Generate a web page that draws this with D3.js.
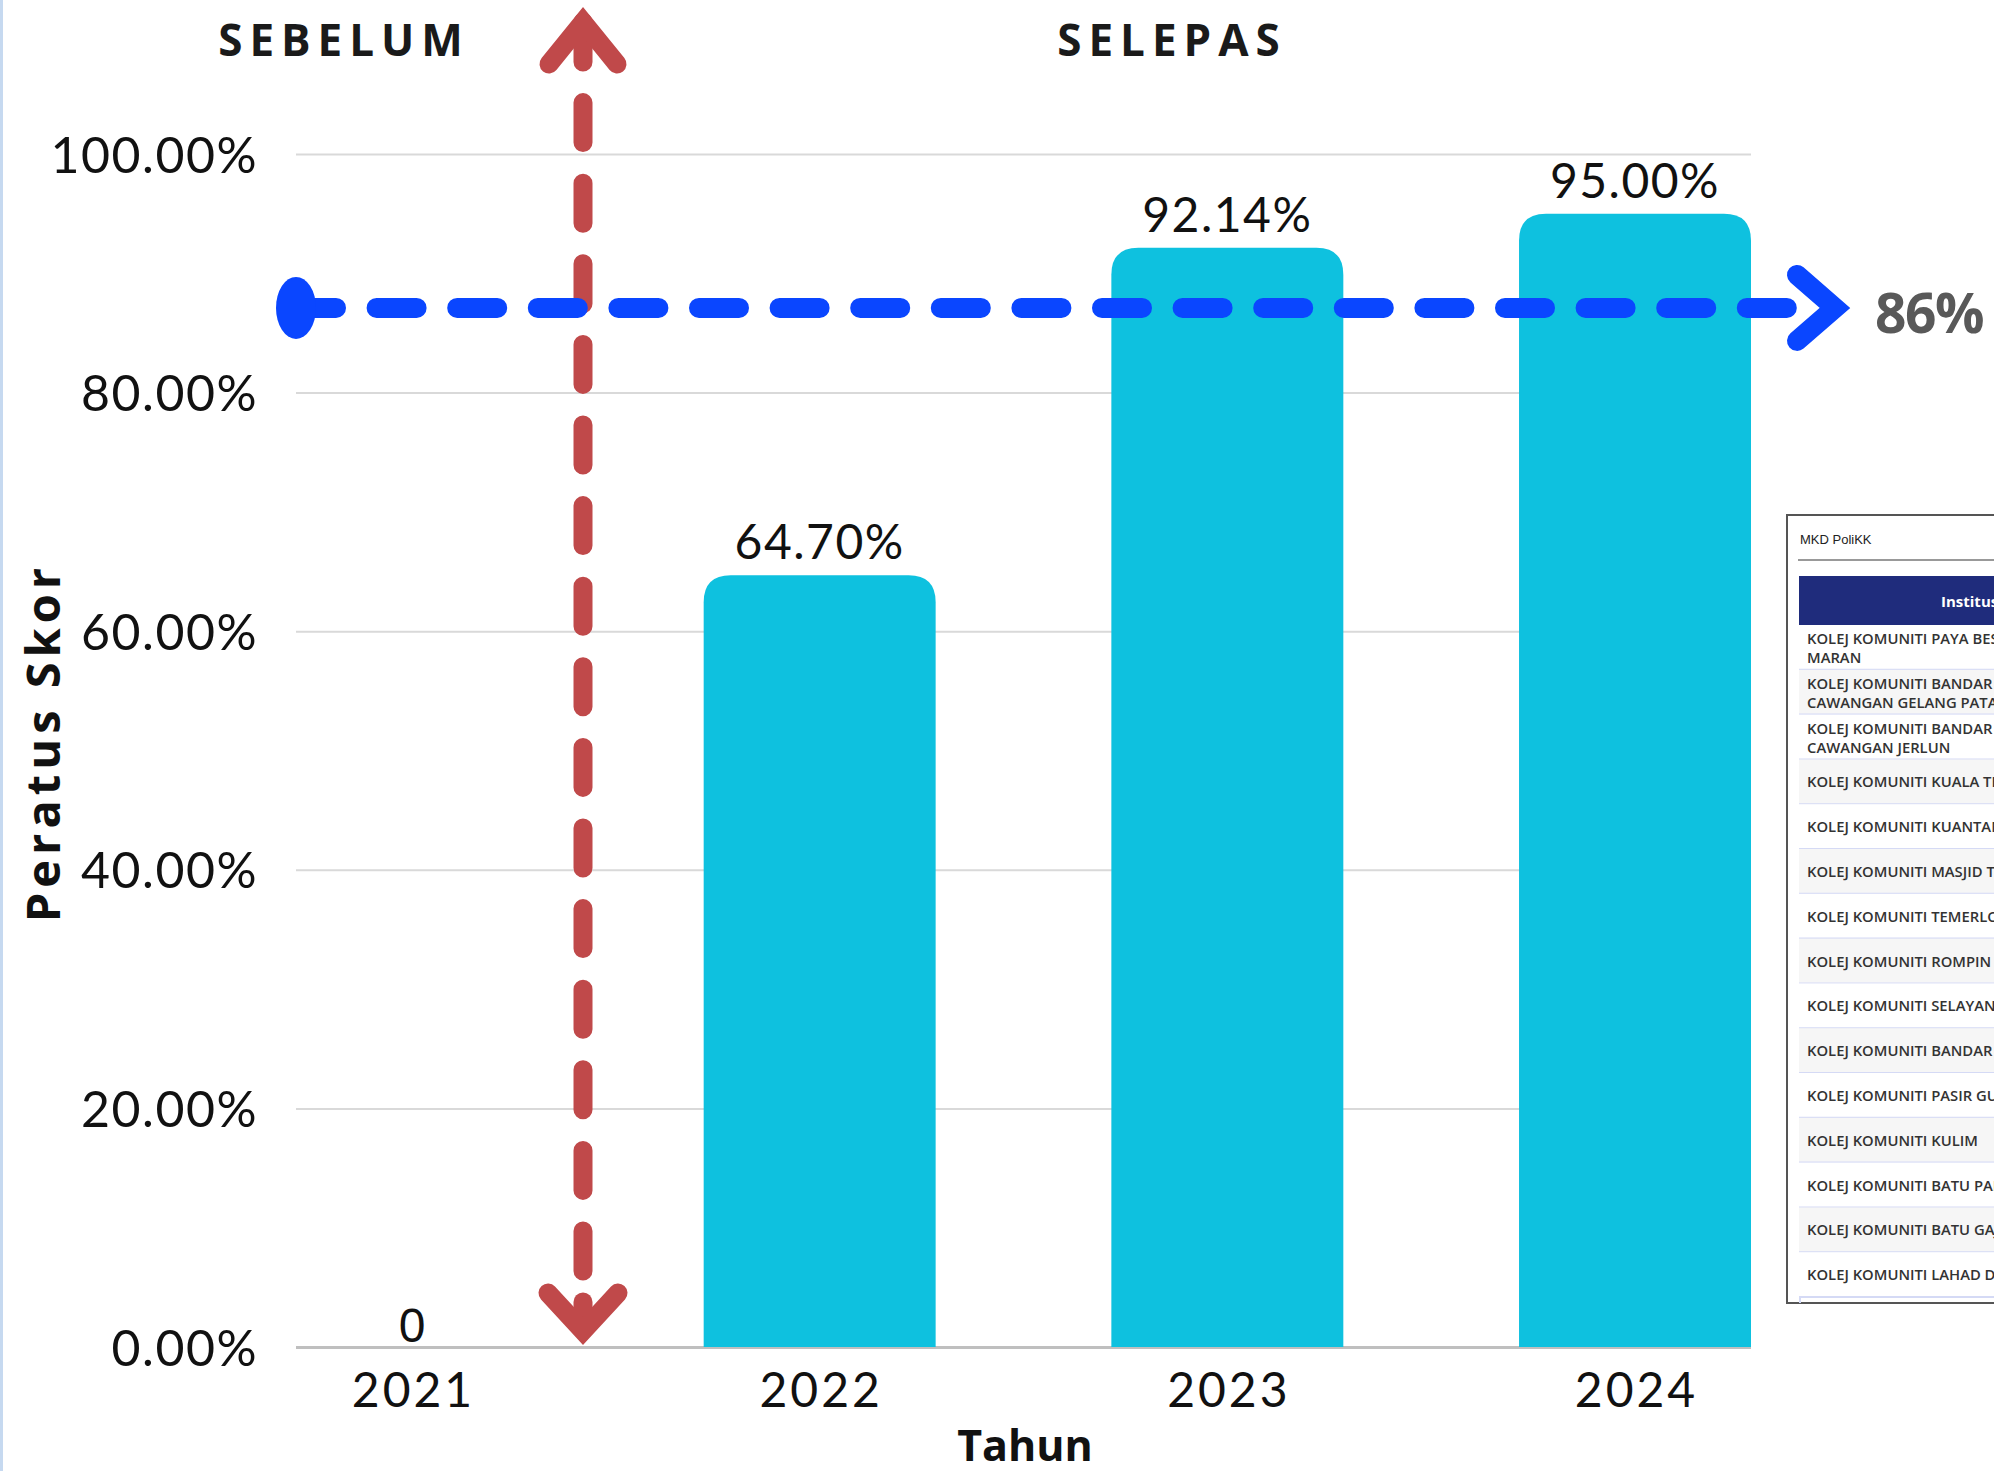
<!DOCTYPE html>
<html>
<head>
<meta charset="utf-8">
<script src="https://cdn.jsdelivr.net/npm/d3@7"></script>
<style>
  html, body { margin: 0; padding: 0; background: #fff; }
  svg { display: block; }
</style>
</head>
<body>
<div id="chart"></div>
<script>
// data
const years = ["2021", "2022", "2023", "2024"];
const scores = [0, 64.70, 92.14, 95.00];
const yTicks = [0, 20, 40, 60, 80, 100];
const targetLevel = 87.1;      // where the blue line is drawn
const targetLabel = "86%";
const tableTitle = "MKD PoliKK";
const tableHeader = "Institusi";
const tableRows = [
  ["KOLEJ KOMUNITI PAYA BESAR", "MARAN"],
  ["KOLEJ KOMUNITI BANDAR DARULAMAN", "CAWANGAN GELANG PATAH"],
  ["KOLEJ KOMUNITI BANDAR DARULAMAN", "CAWANGAN JERLUN"],
  ["KOLEJ KOMUNITI KUALA TERENGGANU"],
  ["KOLEJ KOMUNITI KUANTAN"],
  ["KOLEJ KOMUNITI MASJID TANAH"],
  ["KOLEJ KOMUNITI TEMERLOH"],
  ["KOLEJ KOMUNITI ROMPIN"],
  ["KOLEJ KOMUNITI SELAYAN"],
  ["KOLEJ KOMUNITI BANDAR PENAWAR"],
  ["KOLEJ KOMUNITI PASIR GUDANG"],
  ["KOLEJ KOMUNITI KULIM"],
  ["KOLEJ KOMUNITI BATU PAHAT"],
  ["KOLEJ KOMUNITI BATU GAJAH"],
  ["KOLEJ KOMUNITI LAHAD DATU"]
];

const W = 1994, H = 1471;
const margin = { top: 154, right: 243, bottom: 124, left: 296 };
const width = W - margin.left - margin.right;
const height = H - margin.top - margin.bottom;

const svg = d3.select("#chart").append("svg")
    .attr("width", W)
    .attr("height", H);

// thin blue strip on the left edge
svg.append("rect").attr("x", 0).attr("y", 0).attr("width", 3).attr("height", H).attr("fill", "#c6d9f0");

const g = svg.append("g").attr("transform", `translate(${margin.left},${margin.top})`);

const data = years.map((d, i) => ({ year: d, value: scores[i] }));

const x = d3.scaleBand()
    .domain(years)
    .range([0, width])
    .paddingInner(0.431)
    .paddingOuter(0);

const y = d3.scaleLinear()
    .domain([0, 100])
    .range([height, 0]);

// gridlines
g.append("g")
    .call(d3.axisLeft(y).tickValues(yTicks).tickSize(-width).tickFormat(""))
    .call(s => s.select(".domain").remove())
    .call(s => s.selectAll("line")
        .attr("stroke", d => d === 0 ? "#bfbfbf" : "#d9d9d9")
        .attr("stroke-width", d => d === 0 ? 3 : 2));

// y tick labels
g.append("g")
    .call(d3.axisLeft(y).tickValues(yTicks).tickSize(0).tickPadding(38)
        .tickFormat(d => d.toFixed(2) + "%"))
    .call(s => s.select(".domain").remove())
    .call(s => s.selectAll("text")
        .attr("dy", "0.36em")
        .style("font-family", "Lato, sans-serif")
        .style("font-size", "50px")
        .style("letter-spacing", "1.5px")
        .attr("fill", "#111"));

// x tick labels
g.append("g")
    .attr("transform", `translate(0,${height})`)
    .call(d3.axisBottom(x).tickSize(0).tickPadding(26))
    .call(s => s.select(".domain").remove())
    .call(s => s.selectAll("text")
        .attr("dx", "1.5px")
        .style("font-family", "Lato, sans-serif")
        .style("font-size", "48px")
        .style("letter-spacing", "3px")
        .attr("fill", "#111"));

// bars with rounded top corners
function topRounded(x0, y0, w, h, r) {
  r = Math.min(r, h, w / 2);
  return `M${x0},${y0 + h}V${y0 + r}Q${x0},${y0} ${x0 + r},${y0}H${x0 + w - r}Q${x0 + w},${y0} ${x0 + w},${y0 + r}V${y0 + h}Z`;
}

g.selectAll(".bar")
    .data(data.filter(d => d.value > 0))
  .enter().append("path")
    .attr("class", "bar")
    .attr("fill", "#0ec1df")
    .attr("d", d => topRounded(x(d.year), y(d.value), x.bandwidth(), height - y(d.value), 27));

// value labels
g.selectAll(".val")
    .data(data)
  .enter().append("text")
    .attr("class", "val")
    .attr("x", d => x(d.year) + x.bandwidth() / 2)
    .attr("y", d => d.value > 0 ? y(d.value) - 16 : y(0) - 5)
    .attr("text-anchor", "middle")
    .style("font-family", d => d.value > 0 ? "Lato, sans-serif" : "'Liberation Sans', Arial, sans-serif")
    .style("font-size", "48px")
    .style("letter-spacing", d => d.value > 0 ? "1.5px" : "0px")
    .attr("fill", "#111")
    .text(d => d.value > 0 ? d.value.toFixed(2) + "%" : "0");

// axis titles
svg.append("text")
    .attr("transform", `translate(60,${margin.top + height / 2 - 8}) rotate(-90)`)
    .attr("text-anchor", "middle")
    .style("font-family", "'Open Sans', sans-serif")
    .style("font-weight", 700)
    .style("font-size", "47px")
    .style("letter-spacing", "5px")
    .attr("fill", "#111")
    .text("Peratus Skor");

svg.append("text")
    .attr("x", 1025)
    .attr("y", 1461)
    .attr("text-anchor", "middle")
    .style("font-family", "'Open Sans', sans-serif")
    .style("font-weight", 700)
    .style("font-size", "43px")
    .attr("fill", "#111")
    .text("Tahun");

// SEBELUM / SELEPAS
[["SEBELUM", 340], ["SELEPAS", 1168]].forEach(([t, cx]) => {
  svg.append("text")
      .attr("x", cx + 4)
      .attr("y", 56)
      .attr("text-anchor", "middle")
      .style("font-family", "'Open Sans', sans-serif")
      .style("font-weight", 700)
      .style("font-size", "44px")
      .style("letter-spacing", "7px")
      .attr("fill", "#1a1a1a")
      .text(t);
});

// red vertical dashed arrow between 2021 and 2022
const red = "#c0494a";
const rx = margin.left + x("2021") + x.bandwidth() + x.step() * 0.135;
const yBase = margin.top + y(0);
svg.append("line")
    .attr("x1", rx).attr("x2", rx)
    .attr("y1", 22).attr("y2", 1272)
    .attr("stroke", red).attr("stroke-width", 19)
    .attr("stroke-linecap", "round")
    .attr("stroke-dasharray", "40 40.6");
svg.append("path")
    .attr("d", `M${rx - 34},64L${rx},22L${rx + 34},64`)
    .attr("fill", "none").attr("stroke", red).attr("stroke-width", 19)
    .attr("stroke-linecap", "round").attr("stroke-linejoin", "miter");
svg.append("line")
    .attr("x1", rx).attr("x2", rx).attr("y1", 1302).attr("y2", yBase - 20)
    .attr("stroke", red).attr("stroke-width", 19).attr("stroke-linecap", "round");
svg.append("path")
    .attr("d", `M${rx - 35},1293L${rx},${yBase - 16}L${rx + 35},1293`)
    .attr("fill", "none").attr("stroke", red).attr("stroke-width", 19)
    .attr("stroke-linecap", "round").attr("stroke-linejoin", "miter");

// blue horizontal dashed target arrow
const blue = "#0a46ff";
const by = margin.top + y(targetLevel);
const bx0 = margin.left;
const bx1 = margin.left + width;
svg.append("line")
    .attr("x1", bx0).attr("x2", bx1 + 38)
    .attr("y1", by).attr("y2", by)
    .attr("stroke", blue).attr("stroke-width", 20)
    .attr("stroke-linecap", "round")
    .attr("stroke-dasharray", "40 40.6");
svg.append("ellipse")
    .attr("cx", bx0).attr("cy", by)
    .attr("rx", 20).attr("ry", 31)
    .attr("fill", blue);
svg.append("path")
    .attr("d", `M${bx1 + 46},${by - 33}L${bx1 + 84},${by}L${bx1 + 46},${by + 33}`)
    .attr("fill", "none").attr("stroke", blue).attr("stroke-width", 20)
    .attr("stroke-linecap", "round").attr("stroke-linejoin", "miter");
svg.append("text")
    .attr("x", 1875)
    .attr("y", by + 25)
    .style("font-family", "'Open Sans', sans-serif")
    .style("font-weight", 700)
    .style("font-size", "55px")
    .style("letter-spacing", "-1.5px")
    .attr("fill", "#595959")
    .text(targetLabel);

// screenshot of the institution table on the right
const tbl = svg.append("g");
const tx = 1787, ty = 515, tb = 1303;
tbl.append("rect")
    .attr("x", tx).attr("y", ty).attr("width", W - tx + 10).attr("height", tb - ty)
    .attr("fill", "#fff").attr("stroke", "#555").attr("stroke-width", 2);
tbl.append("text")
    .attr("x", 1800).attr("y", 544)
    .style("font-family", "'Liberation Sans', Arial, sans-serif")
    .style("font-size", "13px")
    .attr("fill", "#222")
    .text(tableTitle);
tbl.append("line")
    .attr("x1", 1798).attr("x2", W).attr("y1", 560).attr("y2", 560)
    .attr("stroke", "#777").attr("stroke-width", 1.5);
tbl.append("rect")
    .attr("x", 1799).attr("y", 576).attr("width", W - 1799).attr("height", 49)
    .attr("fill", "#1f2c7c");
tbl.append("text")
    .attr("x", 1941).attr("y", 607)
    .style("font-family", "'Open Sans', sans-serif")
    .style("font-weight", 700)
    .style("font-size", "15px")
    .attr("fill", "#fff")
    .text(tableHeader);

const rowH = 44.8, row0 = 625;
tableRows.forEach((lines, i) => {
  const top = row0 + i * rowH;
  tbl.append("rect")
      .attr("x", 1799).attr("y", top).attr("width", W - 1799).attr("height", rowH)
      .attr("fill", i % 2 === 1 ? "#f6f6f6" : "#fff");
  tbl.append("line")
      .attr("x1", 1799).attr("x2", W).attr("y1", top + rowH).attr("y2", top + rowH)
      .attr("stroke", "#d5daf5").attr("stroke-width", 2);
  lines.forEach((t, j) => {
    tbl.append("text")
        .attr("x", 1807)
        .attr("y", lines.length === 2 ? top + 19 + j * 19 : top + 28)
        .style("font-family", "'Open Sans', sans-serif")
        .style("font-weight", 600)
        .style("font-size", "14.8px")
        .attr("fill", "#333")
        .text(t);
  });
});
tbl.append("line")
    .attr("x1", 1800).attr("x2", 1800).attr("y1", row0 + tableRows.length * rowH).attr("y2", tb)
    .attr("stroke", "#d5daf5").attr("stroke-width", 2);
</script>
</body>
</html>
